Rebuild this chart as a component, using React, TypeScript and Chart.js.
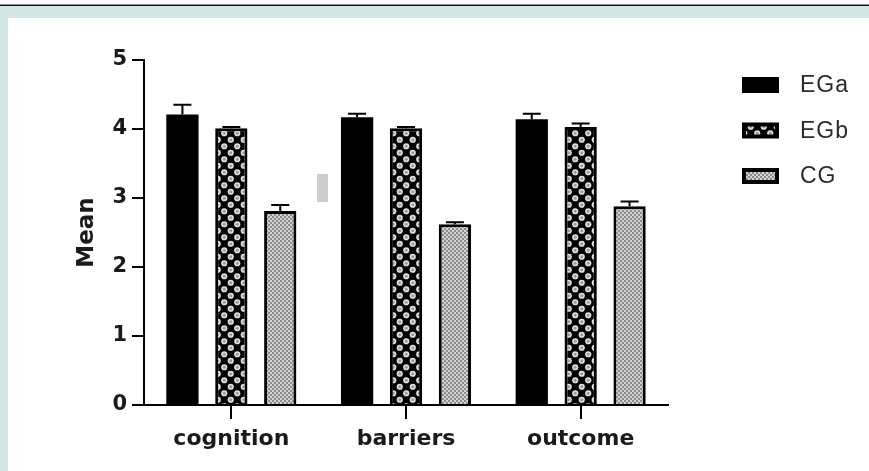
import React, { useEffect, useRef } from "react";
import { Chart, registerables } from "chart.js";
Chart.register(...registerables);

const categories = ["cognition", "barriers", "outcome"];
const seriesNames = ["EGa", "EGb", "CG"];
const egaMeans = [4.21, 4.17, 4.14];
const egbMeans = [4.01, 4.01, 4.03];
const cgMeans = [2.81, 2.62, 2.88];
const egaErrors = [0.14, 0.05, 0.08];
const egbErrors = [0.02, 0.02, 0.05];
const cgErrors = [0.09, 0.03, 0.07];
const yTickValues = [0, 1, 2, 3, 4, 5];
const yTitle = "Mean";

function makeDotPattern(): CanvasPattern | string {
  const c = document.createElement("canvas");
  c.width = 13;
  c.height = 13;
  const g = c.getContext("2d");
  if (!g) return "#333";
  g.fillStyle = "#000";
  g.fillRect(0, 0, 13, 13);
  const dots = [
    [3.25, 3.25],
    [9.75, 9.75],
  ];
  for (const [x, y] of dots) {
    g.fillStyle = "#e0e0e0";
    g.beginPath();
    g.arc(x, y, 3.1, 0, Math.PI * 2);
    g.fill();
    g.fillStyle = "#9a9a9a";
    g.beginPath();
    g.arc(x, y, 1.5, 0, Math.PI * 2);
    g.fill();
  }
  const p = g.createPattern(c, "repeat");
  return p || "#333";
}

function makeGreyPattern(): CanvasPattern | string {
  const c = document.createElement("canvas");
  c.width = 4;
  c.height = 4;
  const g = c.getContext("2d");
  if (!g) return "#aaa";
  g.fillStyle = "#d2d2d2";
  g.fillRect(0, 0, 4, 4);
  g.fillStyle = "#8c8c8c";
  g.fillRect(0, 0, 2, 2);
  g.fillRect(2, 2, 2, 2);
  const p = g.createPattern(c, "repeat");
  return p || "#aaa";
}

export default function App() {
  const ref = useRef<HTMLCanvasElement | null>(null);

  useEffect(() => {
    if (!ref.current) return;
    const dotPattern = makeDotPattern();
    const greyPattern = makeGreyPattern();
    const errors = [egaErrors, egbErrors, cgErrors];

    const errorBars = {
      id: "errorBars",
      afterDatasetsDraw(chart: any) {
        const ctx = chart.ctx;
        const yScale = chart.scales.y;
        ctx.save();
        ctx.strokeStyle = "#000";
        ctx.lineWidth = 2;
        chart.data.datasets.forEach((ds: any, i: number) => {
          const meta = chart.getDatasetMeta(i);
          meta.data.forEach((el: any, j: number) => {
            const top = yScale.getPixelForValue(ds.data[j] + errors[i][j]);
            ctx.beginPath();
            ctx.moveTo(el.x, el.y);
            ctx.lineTo(el.x, top);
            ctx.moveTo(el.x - 9, top);
            ctx.lineTo(el.x + 9, top);
            ctx.stroke();
          });
        });
        ctx.restore();
      },
    };

    const legendPlugin = {
      id: "customLegend",
      afterDraw(chart: any) {
        const ctx = chart.ctx;
        const x0 = chart.chartArea.right + 74;
        ctx.save();
        chart.data.datasets.forEach((ds: any, i: number) => {
          const cy = 85 + i * 45.5;
          ctx.fillStyle = "#000";
          ctx.fillRect(x0, cy - 8, 37, 16);
          if (i > 0) {
            ctx.fillStyle = ds.backgroundColor;
            ctx.fillRect(x0 + 4, cy - 4, 29, 8);
          }
          ctx.fillStyle = "#2a2a2a";
          ctx.font = "23px 'Liberation Sans', Arial, sans-serif";
          ctx.textBaseline = "middle";
          ctx.textAlign = "left";
          try {
            (ctx as any).letterSpacing = "1px";
          } catch (e) {}
          ctx.fillText(ds.label, x0 + 58, cy + 1);
        });
        ctx.restore();
      },
    };

    const chart = new Chart(ref.current, {
      type: "bar",
      data: {
        labels: categories,
        datasets: [
          {
            label: seriesNames[0],
            data: egaMeans,
            backgroundColor: "#000",
            borderColor: "#000",
            borderWidth: 0,
          },
          {
            label: seriesNames[1],
            data: egbMeans,
            backgroundColor: dotPattern as any,
            borderColor: "#000",
            borderWidth: 3,
          },
          {
            label: seriesNames[2],
            data: cgMeans,
            backgroundColor: greyPattern as any,
            borderColor: "#000",
            borderWidth: 3,
          },
        ],
      },
      options: {
        responsive: false,
        animation: false,
        events: [],
        layout: { padding: { left: 0, top: 60, right: 201, bottom: 0 } },
        datasets: {
          bar: { categoryPercentage: 0.84, barPercentage: 0.66 },
        } as any,
        plugins: {
          legend: { display: false },
          tooltip: { enabled: false },
          title: { display: false },
        },
        scales: {
          x: {
            offset: true,
            afterFit: (s: any) => {
              s.height = 66;
            },
            grid: {
              offset: false,
              drawOnChartArea: false,
              drawTicks: true,
              tickLength: 14,
              color: "#000",
              lineWidth: 2,
            },
            border: { display: true, color: "#000", width: 2 },
            ticks: {
              color: "#1a1a1a",
              padding: 7,
              font: { family: "'DejaVu Sans', sans-serif", size: 22, weight: "bold" },
            },
          },
          y: {
            min: 0,
            max: 5,
            afterFit: (s: any) => {
              s.width = 144;
            },
            afterBuildTicks: (s: any) => {
              s.ticks = yTickValues.map((v) => ({ value: v }));
            },
            grid: {
              drawOnChartArea: false,
              drawTicks: true,
              tickLength: 12,
              color: "#000",
              lineWidth: 2,
            },
            border: { display: true, color: "#000", width: 2 },
            ticks: {
              color: "#1a1a1a",
              padding: 5,
              font: { family: "'DejaVu Sans', sans-serif", size: 21, weight: "bold" },
            },
            title: {
              display: true,
              text: yTitle,
              color: "#1a1a1a",
              padding: { top: 73, bottom: 0 },
              font: { family: "'DejaVu Sans', sans-serif", size: 23, weight: "bold" },
            },
          },
        },
      },
      plugins: [errorBars, legendPlugin],
    });
    return () => chart.destroy();
  }, []);

  return (
    <div
      style={{
        position: "fixed",
        left: 0,
        top: 0,
        width: 869,
        height: 471,
        background: "#fff",
        overflow: "hidden",
      }}
    >
      <div style={{ position: "absolute", left: 0, top: 4, width: 869, height: 1, background: "#888" }} />
      <div style={{ position: "absolute", left: 0, top: 5, width: 869, height: 1, background: "#111" }} />
      <div style={{ position: "absolute", left: 0, top: 6, width: 869, height: 12, background: "#d4e6e3" }} />
      <div style={{ position: "absolute", left: 0, top: 6, width: 8, height: 465, background: "#d4e6e3" }} />
      <div style={{ position: "absolute", left: 317, top: 174, width: 11, height: 28, background: "#cdcdcd" }} />
      <canvas
        ref={ref}
        width={869}
        height={471}
        style={{ position: "absolute", left: 0, top: 0, width: 869, height: 471 }}
      />
    </div>
  );
}
